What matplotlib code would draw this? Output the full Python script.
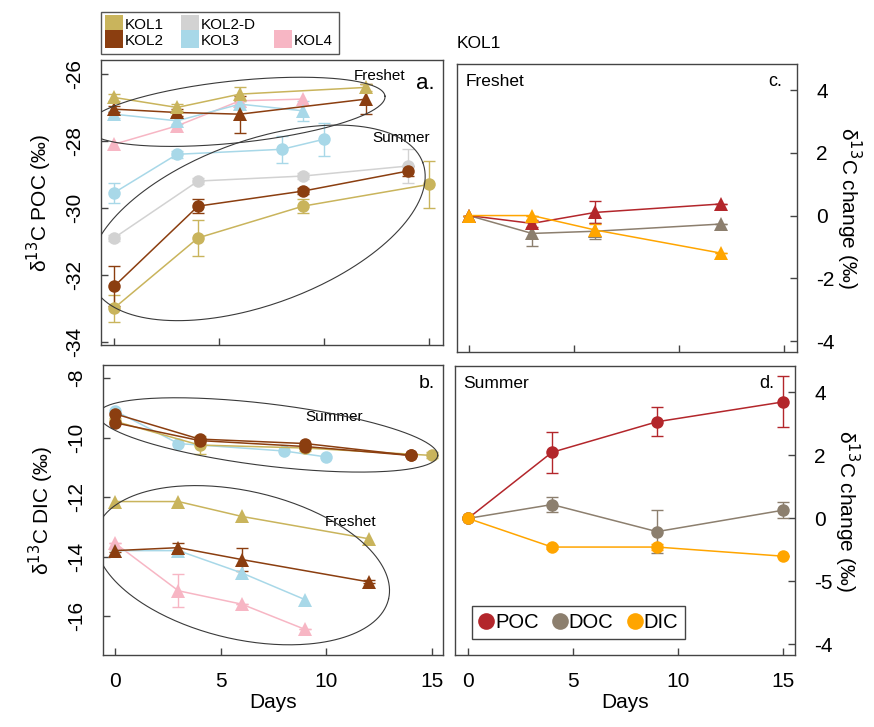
import numpy as np
import matplotlib
matplotlib.use("Agg")
import matplotlib.pyplot as plt
from matplotlib.lines import Line2D

plt.rcParams['font.family'] = ['Liberation Sans', 'DejaVu Sans']
plt.rcParams['axes.unicode_minus'] = False

W, H = 874, 727

# kolory
c_kol1 = '#c9b45c'
c_kol2 = '#8b3e10'
c_kol2d = '#d2d2d2'
c_kol3 = '#a8d8e8'
c_kol4 = '#f7b6c4'
c_poc = '#b3262b'
c_doc = '#8c7f6e'
c_dic = '#ffa500'

# ---- panel a: d13C POC ----
days_fr_a = [0, 3, 6, 12]
days_fr_a9 = [0, 3, 6, 9]
poc_fr_kol1 = [-26.7, -27.0, -26.6, -26.4]
poc_fr_kol1_err = [0.1, 0.1, 0.2, 0.1]
poc_fr_kol2 = [-27.05, -27.15, -27.2, -26.75]
poc_fr_kol2_err = [0.1, 0.1, 0.55, 0.45]
poc_fr_kol3 = [-27.2, -27.4, -26.9, -27.1]
poc_fr_kol3_err = [0.1, 0.1, 0.1, 0.3]
poc_fr_kol4 = [-28.1, -27.55, -26.8, -26.75]

days_su_a = [0, 4, 9, 15]
days_su_a14 = [0, 4, 9, 14]
days_su_a3 = [0, 3, 8, 10]
poc_su_kol1 = [-33.0, -30.9, -29.95, -29.3]
poc_su_kol1_err = [0.4, 0.55, 0.2, 0.7]
poc_su_kol2 = [-32.35, -29.95, -29.5, -28.9]
poc_su_kol2_err = [0.6, 0.2, 0.1, 0.15]
poc_su_kol2d = [-30.9, -29.2, -29.05, -28.75]
poc_su_kol2d_err = [0.1, 0.1, 0.1, 0.5]
poc_su_kol3 = [-29.55, -28.4, -28.25, -27.95]
poc_su_kol3_err = [0.3, 0.1, 0.4, 0.5]

# ---- panel b: d13C DIC ----
dic_su_kol1 = [-9.45, -10.25, -10.35, -10.6]
dic_su_kol1_err = [0.1, 0.3, 0.1, 0.1]
dic_su_kol2 = [-9.2, -10.05, -10.2, -10.6]
dic_su_kol2b = [-9.5, -10.1, -10.3, -10.6]
dic_su_kol3 = [-9.1, -10.2, -10.45, -10.65]

dic_fr_kol1 = [-12.15, -12.15, -12.65, -13.4]
dic_fr_kol2 = [-13.8, -13.7, -14.1, -14.85]
dic_fr_kol2_err = [0.05, 0.15, 0.4, 0.05]
dic_fr_kol3 = [-13.8, -13.8, -14.55, -15.45]
dic_fr_kol4 = [-13.55, -15.15, -15.6, -16.45]
dic_fr_kol4_err = [0, 0.55, 0, 0]

# ---- panel c: KOL1 freshet change ----
days_c = [0, 3, 6, 12]
c_poc_val = [0, -0.25, 0.1, 0.37]
c_poc_err = [0, 0.1, 0.35, 0]
c_doc_val = [0, -0.57, -0.5, -0.27]
c_doc_err = [0, 0.4, 0.25, 0]
c_dic_val = [0, 0, -0.46, -1.2]
c_dic_err = [0, 0, 0.2, 0]

# ---- panel d: KOL1 summer change ----
days_d = [0, 4, 9, 15]
d_poc_val = [0, 2.1, 3.07, 3.7]
d_poc_err = [0, 0.66, 0.46, 0.81]
d_doc_val = [0, 0.44, -0.42, 0.26]
d_doc_err = [0, 0.25, 0.68, 0.25]
d_dic_val = [0, -0.91, -0.91, -1.2]
d_dic_err = [0, 0.05, 0.1, 0]

d_ytick_pos = [4, 2, 0, -2, -4]
d_ytick_lab = ['4', '2', '0', '-5', '-4']


def series(ax, x, y, color, marker, err=None):
    ms = 10.5 if marker == '^' else 9
    if err is not None:
        ax.errorbar(x, y, yerr=err, fmt='none', ecolor=color, elinewidth=1,
                    capsize=4, capthick=1, zorder=2)
    ax.plot(x, y, color=color, lw=1.1, marker=marker, ms=ms,
            markeredgewidth=0, zorder=3)


def ellipse(ax, cx, cy, a_px, b_px, ang):
    # elipsa rysowana w pikselach, przeliczona na dane
    bb = ax.get_position()
    x0, x1 = ax.get_xlim()
    y0, y1 = ax.get_ylim()
    sx = bb.width * W / (x1 - x0)
    sy = bb.height * H / (y1 - y0)
    t = np.linspace(0, 2 * np.pi, 300)
    th = np.radians(ang)
    dx = a_px * np.cos(t) * np.cos(th) - b_px * np.sin(t) * np.sin(th)
    dy = a_px * np.cos(t) * np.sin(th) + b_px * np.sin(t) * np.cos(th)
    ax.plot(cx + dx / sx, cy + dy / sy, color='#3a3a3a', lw=0.8, zorder=4)


def style(ax, right=False):
    for s in ax.spines.values():
        s.set_color('#444444')
        s.set_linewidth(1.0)
    ax.tick_params(direction='in', length=5, width=1, color='#444444',
                   labelsize=15)
    ax.tick_params(axis='x', pad=12)
    if right:
        ax.yaxis.tick_right()
        ax.yaxis.set_label_position('right')
        ax.tick_params(axis='y', pad=14)
    else:
        ax.tick_params(axis='y', pad=12)
        for lab in ax.get_yticklabels():
            lab.set_rotation(90)
            lab.set_va('center')


fig = plt.figure(figsize=(W / 100, H / 100), dpi=100)

ax_a = fig.add_axes([0.1156, 0.5255, 0.3913, 0.3920])
ax_b = fig.add_axes([0.1178, 0.0990, 0.3890, 0.3989])
ax_c = fig.add_axes([0.5229, 0.5158, 0.3890, 0.3961])
ax_d = fig.add_axes([0.5206, 0.0990, 0.3890, 0.3975])

# panel a
ax_a.set_xlim(-0.62, 15.67)
ax_a.set_ylim(-34.1, -25.58)
ax_a.set_xticks([0, 5, 10, 15])
ax_a.set_xticklabels([])
ax_a.set_yticks([-26, -28, -30, -32, -34])
series(ax_a, days_su_a3, poc_su_kol3, c_kol3, 'o', poc_su_kol3_err)
series(ax_a, days_su_a14, poc_su_kol2d, c_kol2d, 'o', poc_su_kol2d_err)
series(ax_a, days_su_a, poc_su_kol1, c_kol1, 'o', poc_su_kol1_err)
series(ax_a, days_su_a14, poc_su_kol2, c_kol2, 'o', poc_su_kol2_err)
series(ax_a, days_fr_a9, poc_fr_kol4, c_kol4, '^')
series(ax_a, days_fr_a9, poc_fr_kol3, c_kol3, '^', poc_fr_kol3_err)
series(ax_a, days_fr_a, poc_fr_kol2, c_kol2, '^', poc_fr_kol2_err)
series(ax_a, days_fr_a, poc_fr_kol1, c_kol1, '^', poc_fr_kol1_err)
ellipse(ax_a, 5.8, -27.13, 150, 31, 6)
ellipse(ax_a, 6.83, -30.45, 176, 82, 20)
ax_a.text(11.4, -26.05, 'Freshet', fontsize=11, va='center')
ax_a.text(12.3, -27.9, 'Summer', fontsize=11, va='center')
ax_a.text(0.975, 0.955, 'a.', transform=ax_a.transAxes, fontsize=16,
          ha='right', va='top')
ax_a.set_ylabel('δ$^{13}$C POC (‰)', fontsize=15, labelpad=8)
style(ax_a)

# panel b
ax_b.set_xlim(-0.57, 15.52)
ax_b.set_ylim(-17.31, -7.56)
ax_b.set_xticks([0, 5, 10, 15])
ax_b.set_yticks([-8, -10, -12, -14, -16])
series(ax_b, days_su_a3, dic_su_kol3, c_kol3, 'o')
series(ax_b, days_su_a, dic_su_kol1, c_kol1, 'o', dic_su_kol1_err)
series(ax_b, days_su_a14, dic_su_kol2b, c_kol2, 'o')
series(ax_b, days_su_a14, dic_su_kol2, c_kol2, 'o')
series(ax_b, days_fr_a, dic_fr_kol1, c_kol1, '^')
series(ax_b, days_fr_a9, dic_fr_kol4, c_kol4, '^', dic_fr_kol4_err)
series(ax_b, days_fr_a9, dic_fr_kol3, c_kol3, '^')
series(ax_b, days_fr_a, dic_fr_kol2, c_kol2, '^', dic_fr_kol2_err)
ellipse(ax_b, 7.24, -9.91, 171, 31, -7)
ellipse(ax_b, 6.03, -14.29, 150, 74, -13)
ax_b.text(9.0, -9.3, 'Summer', fontsize=11, va='center')
ax_b.text(9.95, -12.85, 'Freshet', fontsize=11, va='center')
ax_b.text(0.975, 0.965, 'b.', transform=ax_b.transAxes, fontsize=14,
          ha='right', va='top')
ax_b.set_ylabel('δ$^{13}$C DIC (‰)', fontsize=15, labelpad=8)
ax_b.set_xlabel('Days', fontsize=15, labelpad=2)
style(ax_b)

# panel c
ax_c.set_xlim(-0.57, 15.6)
ax_c.set_ylim(-4.35, 4.83)
ax_c.set_xticks([0, 5, 10, 15])
ax_c.set_xticklabels([])
ax_c.set_yticks([4, 2, 0, -2, -4])
series(ax_c, days_c, c_doc_val, c_doc, '^', c_doc_err)
series(ax_c, days_c, c_poc_val, c_poc, '^', c_poc_err)
series(ax_c, days_c, c_dic_val, c_dic, '^', c_dic_err)
ax_c.text(0.025, 0.965, 'Freshet', transform=ax_c.transAxes, fontsize=12.5,
          ha='left', va='top')
ax_c.text(0.955, 0.97, 'c.', transform=ax_c.transAxes, fontsize=13,
          ha='right', va='top')
ax_c.text(0.0, 1.045, 'KOL1', transform=ax_c.transAxes, fontsize=12.5,
          ha='left', va='bottom')
ax_c.set_ylabel('δ$^{13}$C change (‰)', fontsize=15, rotation=270,
                labelpad=20)
style(ax_c, right=True)

# panel d
ax_d.set_xlim(-0.62, 15.57)
ax_d.set_ylim(-4.34, 4.84)
ax_d.set_xticks([0, 5, 10, 15])
ax_d.set_yticks(d_ytick_pos)
ax_d.set_yticklabels(d_ytick_lab)
series(ax_d, days_d, d_poc_val, c_poc, 'o', d_poc_err)
series(ax_d, days_d, d_doc_val, c_doc, 'o', d_doc_err)
series(ax_d, days_d, d_dic_val, c_dic, 'o', d_dic_err)
ax_d.text(0.025, 0.965, 'Summer', transform=ax_d.transAxes, fontsize=12.5,
          ha='left', va='top')
ax_d.text(0.94, 0.97, 'd.', transform=ax_d.transAxes, fontsize=13,
          ha='right', va='top')
ax_d.set_ylabel('δ$^{13}$C change (‰)', fontsize=15, rotation=270,
                labelpad=20)
ax_d.set_xlabel('Days', fontsize=15, labelpad=2)
style(ax_d, right=True)

h_d = [Line2D([], [], ls='none', marker='o', ms=12, mew=0, color=c)
       for c in (c_poc, c_doc, c_dic)]
leg_d = ax_d.legend(h_d, ['POC', 'DOC', 'DIC'], ncol=3, loc='lower left',
                    bbox_to_anchor=(0.02, 0.02), fontsize=14.5,
                    handlelength=0.7, handletextpad=0.1, columnspacing=0.7,
                    borderpad=0.35, fancybox=False, framealpha=1,
                    edgecolor='#444444')

# legenda glowna
names = ['KOL1', 'KOL2', 'KOL2-D', 'KOL3', '', 'KOL4']
cols = [c_kol1, c_kol2, c_kol2d, c_kol3, 'none', c_kol4]
h_top = [Line2D([], [], ls='none', marker='s', ms=13, mew=0, color=c)
         for c in cols]
fig.legend(h_top, names, ncol=3, loc='upper left',
           bbox_to_anchor=(101 / W, 1 - 12 / H), borderaxespad=0,
           fontsize=11, handlelength=0.9, handletextpad=0.25,
           columnspacing=1.3, labelspacing=0.1, borderpad=0.4,
           fancybox=False, framealpha=1, edgecolor='#555555')

fig.savefig('out.png', dpi=100)
